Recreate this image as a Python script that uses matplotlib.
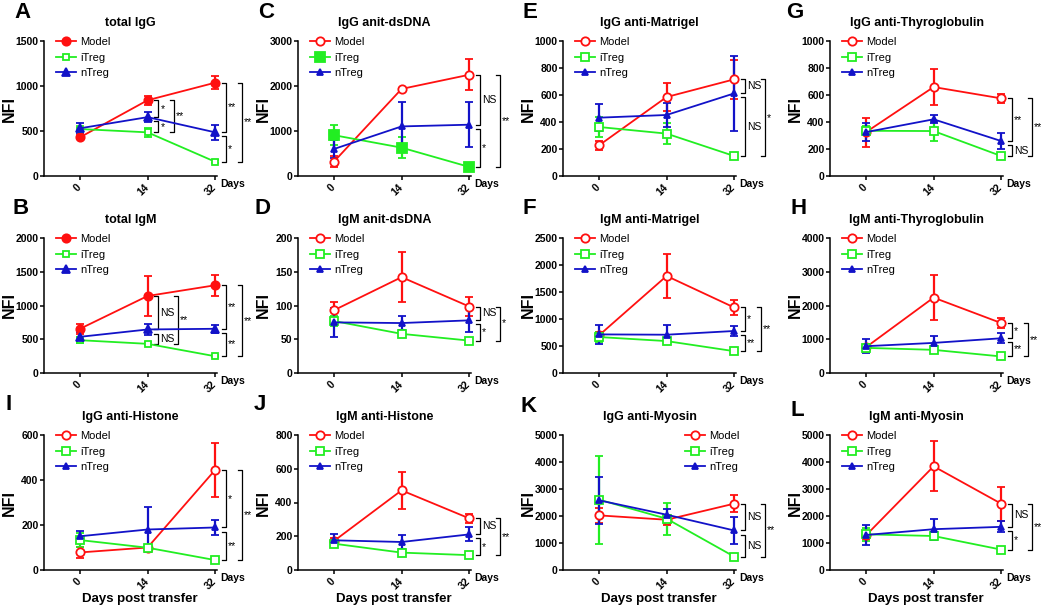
import matplotlib
matplotlib.use('Agg')
import matplotlib.pyplot as plt
import matplotlib.transforms as mtransforms

plt.rcParams['font.family'] = ['Liberation Sans', 'DejaVu Sans']

# ---------------- data ----------------
days = ['0', '14', '32']
groups = ['Model', 'iTreg', 'nTreg']

# A total IgG
A_model = [430, 842, 1037];   A_model_err = [20, 48, 73]
A_itreg = [522, 485, 158];    A_itreg_err = [15, 50, 15]
A_ntreg = [530, 654, 485];    A_ntreg_err = [55, 55, 87]
# B total IgM
B_model = [655, 1141, 1300];  B_model_err = [75, 300, 157]
B_itreg = [486, 432, 248];    B_itreg_err = [40, 20, 15]
B_ntreg = [536, 645, 655];    B_ntreg_err = [65, 85, 60]
# C IgG anit-dsDNA
C_model = [320, 1935, 2250];  C_model_err = [120, 30, 350]
C_itreg = [907, 630, 202];    C_itreg_err = [220, 235, 50]
C_ntreg = [600, 1102, 1140];  C_ntreg_err = [195, 550, 500]
# D IgM anit-dsDNA
D_model = [93, 142, 98.5];    D_model_err = [12, 37, 14]
D_itreg = [77, 58, 48];       D_itreg_err = [8, 5, 3]
D_ntreg = [75, 74, 78];       D_ntreg_err = [21, 11, 17]
# E IgG anti-Matrigel
E_model = [227, 585, 716];    E_model_err = [35, 105, 143]
E_itreg = [363, 314, 148];    E_itreg_err = [77, 80, 10]
E_ntreg = [432, 452, 612];    E_ntreg_err = [99, 90, 280]
# F IgM anti-Matrigel
F_model = [697, 1797, 1213];  F_model_err = [60, 410, 137]
F_itreg = [666, 591, 404];    F_itreg_err = [90, 40, 25]
F_ntreg = [715, 709, 778];    F_ntreg_err = [180, 175, 100]
# G IgG anti-Thyroglobulin
G_model = [325, 659, 575];    G_model_err = [107, 130, 35]
G_itreg = [335, 333, 148];    G_itreg_err = [35, 77, 15]
G_ntreg = [325, 420, 259];    G_ntreg_err = [65, 30, 62]
# H IgM anti-Thyroglobulin
H_model = [764, 2234, 1480];  H_model_err = [80, 670, 160]
H_itreg = [745, 686, 490];    H_itreg_err = [70, 50, 30]
H_ntreg = [794, 892, 1029];   H_ntreg_err = [215, 210, 147]
# I IgG anti-Histone
I_model = [78, 100, 445];     I_model_err = [23, 10, 120]
I_itreg = [133, 99, 44];      I_itreg_err = [30, 12, 8]
I_ntreg = [150, 180, 189];    I_ntreg_err = [23, 100, 32]
# J IgM anti-Histone
J_model = [172, 472, 306];    J_model_err = [20, 108, 27]
J_itreg = [156, 103, 88];     J_itreg_err = [20, 8, 15]
J_ntreg = [176, 166, 211];    J_ntreg_err = [39, 41, 42]
# K IgG anti-Myosin
K_model = [2023, 1861, 2457]; K_model_err = [290, 180, 320]
K_itreg = [2606, 1899, 496];  K_itreg_err = [1625, 590, 60]
K_ntreg = [2581, 2048, 1464]; K_ntreg_err = [860, 205, 515]
# L IgM anti-Myosin
L_model = [1284, 3840, 2455]; L_model_err = [150, 920, 630]
L_itreg = [1322, 1259, 755];  L_itreg_err = [250, 130, 60]
L_ntreg = [1297, 1511, 1599]; L_ntreg_err = [380, 390, 210]

# significance brackets: (day index, group a, group b, label, level)
A_sig = [(1, 'Model', 'nTreg', '*', 0), (1, 'nTreg', 'iTreg', '*', 0), (1, 'Model', 'iTreg', '**', 1),
         (2, 'Model', 'nTreg', '**', 0), (2, 'nTreg', 'iTreg', '*', 0), (2, 'Model', 'iTreg', '**', 1)]
B_sig = [(1, 'Model', 'nTreg', 'NS', 0), (1, 'nTreg', 'iTreg', 'NS', 0), (1, 'Model', 'iTreg', '**', 1),
         (2, 'Model', 'nTreg', '**', 0), (2, 'nTreg', 'iTreg', '**', 0), (2, 'Model', 'iTreg', '**', 1)]
C_sig = [(2, 'Model', 'nTreg', 'NS', 0), (2, 'nTreg', 'iTreg', '*', 0), (2, 'Model', 'iTreg', '**', 1)]
D_sig = [(2, 'Model', 'nTreg', 'NS', 0), (2, 'nTreg', 'iTreg', '*', 0), (2, 'Model', 'iTreg', '*', 1)]
E_sig = [(2, 'Model', 'nTreg', 'NS', 0), (2, 'nTreg', 'iTreg', 'NS', 0), (2, 'Model', 'iTreg', '*', 1)]
F_sig = [(2, 'Model', 'nTreg', '*', 0), (2, 'nTreg', 'iTreg', '**', 0), (2, 'Model', 'iTreg', '**', 1)]
G_sig = [(2, 'Model', 'nTreg', '**', 0), (2, 'nTreg', 'iTreg', 'NS', 0), (2, 'Model', 'iTreg', '**', 1)]
H_sig = [(2, 'Model', 'nTreg', '*', 0), (2, 'nTreg', 'iTreg', '**', 0), (2, 'Model', 'iTreg', '**', 1)]
I_sig = [(2, 'Model', 'nTreg', '*', 0), (2, 'nTreg', 'iTreg', '**', 0), (2, 'Model', 'iTreg', '**', 1)]
J_sig = [(2, 'Model', 'nTreg', 'NS', 0), (2, 'nTreg', 'iTreg', '*', 0), (2, 'Model', 'iTreg', '**', 1)]
K_sig = [(2, 'Model', 'nTreg', 'NS', 0), (2, 'nTreg', 'iTreg', 'NS', 0), (2, 'Model', 'iTreg', '**', 1)]
L_sig = [(2, 'Model', 'nTreg', 'NS', 0), (2, 'nTreg', 'iTreg', '*', 0), (2, 'Model', 'iTreg', '**', 1)]

titles = {'A': 'total IgG', 'B': 'total IgM', 'C': 'IgG anit-dsDNA', 'D': 'IgM anit-dsDNA',
          'E': 'IgG anti-Matrigel', 'F': 'IgM anti-Matrigel', 'G': 'IgG anti-Thyroglobulin',
          'H': 'IgM anti-Thyroglobulin', 'I': 'IgG anti-Histone', 'J': 'IgM anti-Histone',
          'K': 'IgG anti-Myosin', 'L': 'IgM anti-Myosin'}
y_max = {'A': 1500, 'B': 2000, 'C': 3000, 'D': 200, 'E': 1000, 'F': 2500,
         'G': 1000, 'H': 4000, 'I': 600, 'J': 800, 'K': 5000, 'L': 5000}
y_step = {'A': 500, 'B': 500, 'C': 1000, 'D': 50, 'E': 200, 'F': 500,
          'G': 200, 'H': 1000, 'I': 200, 'J': 200, 'K': 1000, 'L': 1000}

panel_data = {
    'A': ([A_model, A_itreg, A_ntreg], [A_model_err, A_itreg_err, A_ntreg_err], A_sig),
    'B': ([B_model, B_itreg, B_ntreg], [B_model_err, B_itreg_err, B_ntreg_err], B_sig),
    'C': ([C_model, C_itreg, C_ntreg], [C_model_err, C_itreg_err, C_ntreg_err], C_sig),
    'D': ([D_model, D_itreg, D_ntreg], [D_model_err, D_itreg_err, D_ntreg_err], D_sig),
    'E': ([E_model, E_itreg, E_ntreg], [E_model_err, E_itreg_err, E_ntreg_err], E_sig),
    'F': ([F_model, F_itreg, F_ntreg], [F_model_err, F_itreg_err, F_ntreg_err], F_sig),
    'G': ([G_model, G_itreg, G_ntreg], [G_model_err, G_itreg_err, G_ntreg_err], G_sig),
    'H': ([H_model, H_itreg, H_ntreg], [H_model_err, H_itreg_err, H_ntreg_err], H_sig),
    'I': ([I_model, I_itreg, I_ntreg], [I_model_err, I_itreg_err, I_ntreg_err], I_sig),
    'J': ([J_model, J_itreg, J_ntreg], [J_model_err, J_itreg_err, J_ntreg_err], J_sig),
    'K': ([K_model, K_itreg, K_ntreg], [K_model_err, K_itreg_err, K_ntreg_err], K_sig),
    'L': ([L_model, L_itreg, L_ntreg], [L_model_err, L_itreg_err, L_ntreg_err], L_sig),
}

# ---------------- styling / layout ----------------
colors = {'Model': '#FF1010', 'iTreg': '#22EE22', 'nTreg': '#1212C8'}
# (marker, filled, size) per group for each style
marker_styles = {
    'solid': {'Model': ('o', True, 6), 'iTreg': ('s', False, 5), 'nTreg': ('^', True, 6)},
    'C':     {'Model': ('o', False, 6), 'iTreg': ('s', True, 6.5), 'nTreg': ('^', True, 4.5)},
    'open':  {'Model': ('o', False, 6), 'iTreg': ('s', False, 5.5), 'nTreg': ('^', True, 4.5)},
}
panel_style = {'A': 'solid', 'B': 'solid', 'C': 'C'}

grid = {'A': (0, 0), 'C': (0, 1), 'E': (0, 2), 'G': (0, 3),
        'B': (1, 0), 'D': (1, 1), 'F': (1, 2), 'H': (1, 3),
        'I': (2, 0), 'J': (2, 1), 'K': (2, 2), 'L': (2, 3)}
letter_pos = {'A': (14, 12), 'C': (258, 12), 'E': (522, 12), 'G': (786, 12),
              'B': (12, 208), 'D': (254, 208), 'F': (522, 208), 'H': (790, 208),
              'I': (5, 405), 'J': (254, 405), 'K': (520, 407), 'L': (790, 410)}

W, H = 1050, 613
unit = 67.6
x_left, x_right = -0.53, 2.03
ax_w = (x_right - x_left) * unit
col_tick0 = [80, 334, 599, 866]
row_top = [41, 238, 435]
row_bot = [176, 373, 570]

fig = plt.figure(figsize=(W / 100, H / 100), dpi=100)

for key, (r, c) in grid.items():
    means, errs, sig = panel_data[key]
    left = col_tick0[c] + x_left * unit
    ax_h = row_bot[r] - row_top[r]
    ax = fig.add_axes([left / W, 1 - row_bot[r] / H, ax_w / W, ax_h / H])
    ax.set_facecolor('none')
    style = marker_styles[panel_style.get(key, 'open')]
    x = list(range(len(days)))
    handles = []
    for g, m, e in zip(groups, means, errs):
        mk, filled, ms = style[g]
        col = colors[g]
        eb = ax.errorbar(x, m, yerr=e, color=col, marker=mk, ms=ms,
                         mfc=col if filled else 'white', mec=col, mew=1.3,
                         lw=1.3, elinewidth=1.6, capsize=3, capthick=1.6,
                         clip_on=False, zorder=3)
        handles.append(eb[0])
    ax.set_xlim(x_left, x_right)
    ax.set_ylim(0, y_max[key])
    ax.set_xticks(x)
    ax.set_xticklabels(days, rotation=45, ha='right', va='center',
                       rotation_mode='anchor', fontsize=7.5, fontweight='bold')
    yt = list(range(0, y_max[key] + 1, y_step[key]))
    ax.set_yticks(yt)
    ax.set_yticklabels([str(v) for v in yt], fontsize=7.5, fontweight='bold')
    for s in ['top', 'right']:
        ax.spines[s].set_visible(False)
    for s in ['left', 'bottom']:
        ax.spines[s].set_linewidth(1.1)
    ax.tick_params(axis='both', direction='out', length=3, width=1.1, pad=1)
    ax.tick_params(axis='x', pad=4)
    ax.set_ylabel('NFI', fontsize=11.5, fontweight='bold')
    ax.yaxis.set_label_coords(-27 / ax_w, 0.5)
    ax.set_title(titles[key], fontsize=9, fontweight='bold', pad=11)

    blend = mtransforms.blended_transform_factory(ax.transData, ax.transAxes)
    ax.text(2.08, -8 / ax_h, 'Days', transform=blend, ha='left', va='center',
            fontsize=7.5, fontweight='bold')
    if r == 2:
        ax.text((140 - 44) / ax_w, -29 / ax_h, 'Days post transfer', transform=ax.transAxes,
                ha='center', va='center', fontsize=9.5, fontweight='bold')

    lx = 0.705 if key == 'K' else 12 / ax_w
    ax.legend(handles, groups, loc='upper left', bbox_to_anchor=(lx, 1 + 4 / ax_h),
              frameon=False, fontsize=8, handlelength=1.8, handletextpad=0.4,
              labelspacing=0.5, borderpad=0, borderaxespad=0, numpoints=1)

    # significance brackets
    gap = 0.03 * y_max[key]
    arm = 0.06
    gi = {g: i for i, g in enumerate(groups)}
    for (d, ga, gb, lab, lev) in sig:
        va_, vb_ = means[gi[ga]][d], means[gi[gb]][d]
        top, bot = max(va_, vb_), min(va_, vb_)
        if lev == 0:
            # lower inner bracket starts slightly below the shared group
            for (d2, ga2, gb2, lab2, lev2) in sig:
                if d2 == d and lev2 == 0 and (ga2, gb2) != (ga, gb):
                    t2 = max(means[gi[ga2]][d], means[gi[gb2]][d])
                    b2 = min(means[gi[ga2]][d], means[gi[gb2]][d])
                    if abs(b2 - top) < 1e-9 and t2 > top:
                        top -= gap
            bx = d + 0.16
        else:
            inner_labels = [s[3] for s in sig if s[0] == d and s[4] == 0]
            bx = d + 0.16 + (0.29 if 'NS' in inner_labels else 0.23)
        ax.plot([bx - arm, bx, bx, bx - arm], [top, top, bot, bot], color='black',
                lw=0.9, clip_on=False, zorder=2)
        ax.text(bx + 0.03, (top + bot) / 2, lab, ha='left', va='center', fontsize=7.5,
                clip_on=False)

for key, (px, py) in letter_pos.items():
    fig.text(px / W, 1 - py / H, key, fontsize=16, fontweight='bold', ha='left', va='center')

fig.savefig('out.png', dpi=100)
